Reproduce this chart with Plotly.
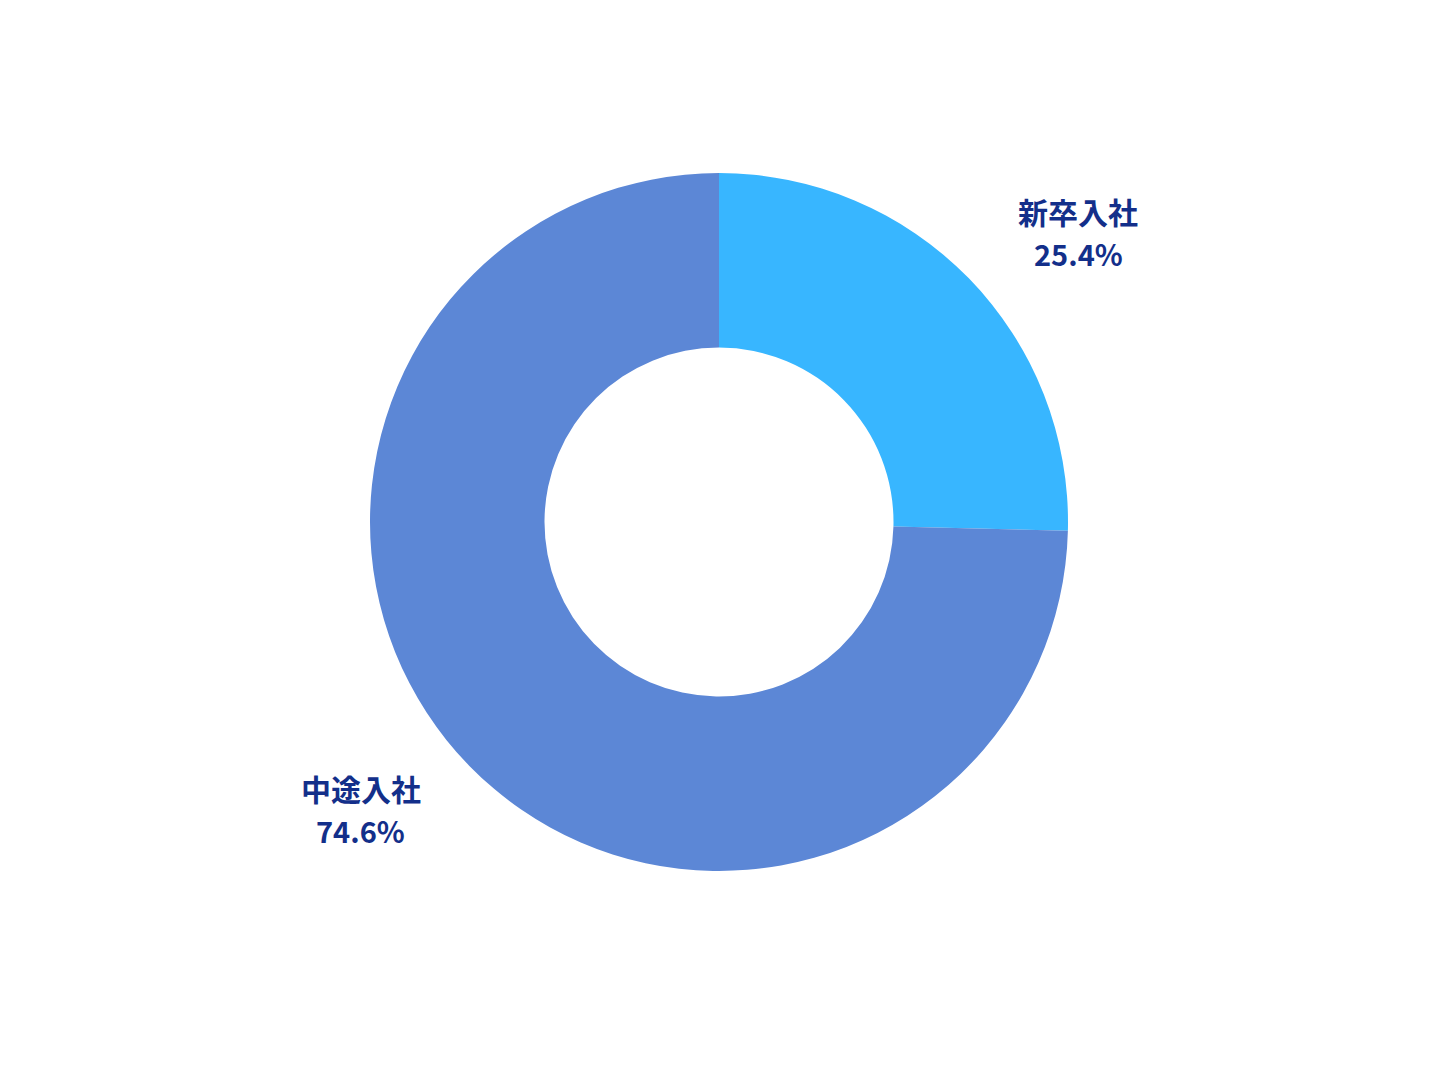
import plotly.graph_objects as go

labels = ["新卒入社", "中途入社"]
values = [25.4, 74.6]
colors = ["#38b6ff", "#5c87d6"]
label_x = [0.7525, 0.2482]
name_y = [0.945, 0.1186]
pct_y = [0.885, 0.0584]

fig = go.Figure(go.Pie(
    labels=labels,
    values=values,
    hole=0.5,
    sort=False,
    direction="clockwise",
    rotation=0,
    marker=dict(colors=colors, line=dict(width=0)),
    textinfo="none",
    hoverinfo="label+percent",
    showlegend=False,
))

for lab, val, x, yn, yp in zip(labels, values, label_x, name_y, pct_y):
    fig.add_annotation(
        x=x, y=yn, xref="paper", yref="paper",
        text=f"<b>{lab}</b>",
        showarrow=False,
        font=dict(family="Noto Sans CJK JP", size=30, color="#132f8a"),
        xanchor="center", yanchor="middle",
    )
    fig.add_annotation(
        x=x, y=yp, xref="paper", yref="paper",
        text=f"<b>{val:.1f}%</b>",
        showarrow=False,
        font=dict(family="Noto Sans CJK JP", size=29, color="#132f8a"),
        xanchor="center", yanchor="middle",
    )

fig.update_layout(
    width=1440, height=1080,
    margin=dict(l=0, r=18, t=165, b=217),
    paper_bgcolor="white",
    plot_bgcolor="white",
)

fig.write_html("out.html")
